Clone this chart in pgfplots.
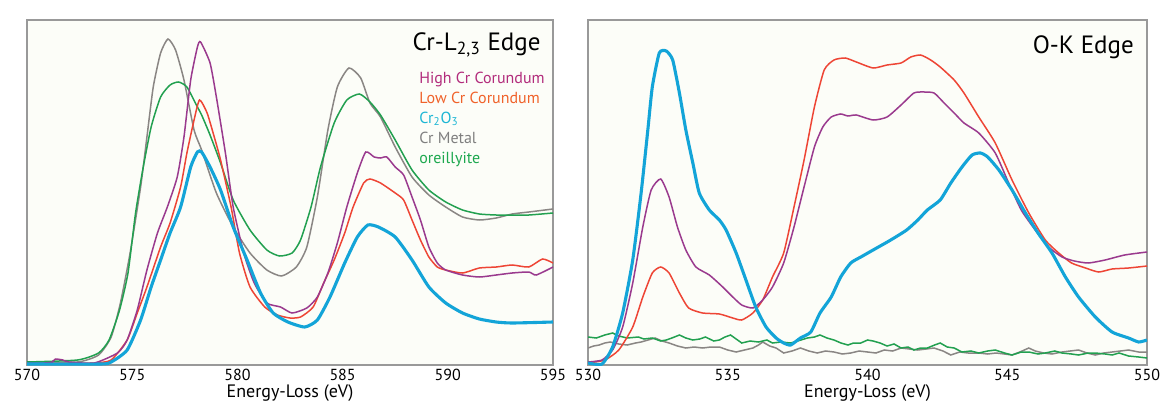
\documentclass[border=0pt]{standalone}
\usepackage{fontspec}
\setmainfont{PT Sans}
\usepackage{pgfplots}
\usepackage{pgfplotstable}
\pgfplotsset{compat=1.18}
\definecolor{cpur}{HTML}{9A3A8E}
\definecolor{cred}{HTML}{EE4535}
\definecolor{cblu}{HTML}{13A4D8}
\definecolor{cgry}{HTML}{8A8684}
\definecolor{cgrn}{HTML}{22A050}
\definecolor{tpur}{HTML}{B22C7C}
\definecolor{tred}{HTML}{F0622A}
\definecolor{tblu}{HTML}{1CB6D4}
\definecolor{tgry}{HTML}{7F7F7F}
\definecolor{tgrn}{HTML}{1DA84F}
\definecolor{bgc}{RGB}{252,253,248}

% ---------- Cr-L2,3 edge ----------
\pgfplotstableread{
x y
570 3
572.4 3
573.4 10
574.0 28
574.44 62
574.9 112
575.4 178
575.7 228
576.0 278
576.35 312
576.7 326
577.06 315
577.46 285
577.94 235
578.3 215
579.0 172
579.8 138
580.6 112
581.4 95
582.1 89
582.8 98
583.3 118
583.8 168
584.3 235
584.75 278
585.3 297
585.86 287
586.3 262
586.8 248
587.5 218
588.3 188
589.1 170
589.9 158
590.7 148
591.5 145
592.3 147
593.06 151
593.85 153
595 156
}\LGray
\pgfplotstableread{
x y
570 3
572.4 5
573.4 12
573.9 25
574.4 55
574.8 92
575.16 152
575.5 195
575.9 238
576.35 268
576.8 280
577.2 283
577.6 278
578.1 258
578.3 250
578.7 230
579.2 202
579.8 165
580.6 135
581.4 115
582.0 109
582.6 112
583.0 125
583.5 158
583.95 198
584.6 242
585.2 265
585.8 271
586.3 263
586.8 250
587.5 225
588.3 195
589.1 175
589.9 163
590.7 155
591.5 151
592.3 150
593.06 150
593.85 150
595 152
}\LGreen
\pgfplotstableread{
x y
570 2
570.8 2
571.2 3
571.35 6
571.7 5
572.0 3
573.2 2
574.3 12
574.76 25
575.24 55
575.7 95
576.2 132
576.67 158
577.14 188
577.46 228
577.78 285
578.1 318
578.25 323
578.7 302
579.0 268
579.43 212
579.8 158
580.3 112
580.8 82
581.4 62
582.05 58
582.6 52
583.3 57
583.8 68
584.3 92
584.75 122
585.2 158
585.7 192
586.1 213
586.5 208
586.8 207
587.1 208
587.5 198
587.9 190
588.3 168
588.7 145
589.1 118
589.5 102
589.9 95
590.7 90
591.5 88
592.3 90
593.06 92
593.85 93
594.2 90
595 98
}\LPurple
\pgfplotstableread{
x y
570 1
571.6 1
573.2 2
574.0 5
574.76 25
575.24 52
575.7 78
576.35 118
576.8 142
577.3 178
577.6 212
577.94 245
578.2 265
578.56 252
578.9 228
579.2 205
579.7 158
580.1 112
580.6 78
581.3 58
581.9 50
582.5 47
583.0 48
583.6 58
584.1 82
584.6 105
585.1 132
585.5 158
586.0 182
586.3 186
586.8 182
587.5 172
587.9 165
588.3 145
588.7 125
589.1 108
589.5 98
589.9 95
590.7 92
591.5 97
592.3 98
593.06 100
593.85 98
594.5 106
595 102
}\LRed
\pgfplotstableread{
x y
570 1
573.5 1
574.0 3
574.76 15
575.4 45
575.9 78
576.35 105
576.8 132
577.3 158
577.78 198
578.1 213
578.3 213
578.7 198
579.2 175
579.8 138
580.46 105
581.1 72
581.7 52
582.4 43
583.2 38
583.8 45
584.4 68
585.1 102
585.7 128
586.2 140
586.7 138
587.5 128
588.3 105
589.1 78
589.9 62
590.7 52
591.5 46
592.3 43
593.06 42
595 43
}\LBlue

% ---------- O-K edge ----------
\pgfplotstableread{
x y
530.0 2
530.5 1
530.88 18
531.24 52
531.6 105
531.9 172
532.14 235
532.3 278
532.55 312
532.8 314
533.03 305
533.27 272
533.5 235
533.75 202
533.98 172
534.34 155
534.7 145
534.94 135
535.3 112
535.65 85
536.0 58
536.37 38
536.73 27
537.0 22
537.25 20
537.6 27
537.97 33
538.3 52
538.7 68
539.04 88
539.4 102
539.76 108
540.2 115
540.83 125
541.4 135
541.8 145
542.14 155
542.6 165
542.98 182
543.38 198
543.74 210
544.04 212
544.3 208
544.7 195
545.17 175
545.65 152
546.1 132
546.6 112
547.08 88
547.55 68
548.15 48
548.75 33
549.34 27
549.7 23
550.0 25
}\RBlue
\pgfplotstableread{
x y
530.0 3
530.5 5
530.88 15
531.24 38
531.6 82
531.96 138
532.26 175
532.6 186
532.9 168
533.2 138
533.5 115
533.86 98
534.34 90
534.82 78
535.18 68
535.5 60
535.9 57
536.25 65
536.6 78
537.0 102
537.37 138
537.73 178
538.1 218
538.4 238
538.7 248
539.04 251
539.3 249
539.6 250
540.2 245
540.7 248
541.2 260
541.66 272
542.0 273
542.38 272
542.74 262
543.1 252
543.45 242
543.98 232
544.57 212
545.05 182
545.5 155
546.0 135
546.48 118
546.96 108
547.4 104
547.9 102
548.5 105
549.2 110
550.0 113
}\RPurple
\pgfplotstableread{
x y
530.0 2
530.6 5
531.1 15
531.6 38
531.96 68
532.3 92
532.6 98
532.9 92
533.27 72
533.6 57
534.1 52
534.7 51
535.18 47
535.5 45
535.9 52
536.25 65
536.6 88
537.0 112
537.37 158
537.73 205
538.1 258
538.45 295
538.8 305
539.2 307
539.6 303
540.2 297
540.7 300
541.2 302
541.55 308
541.9 310
542.26 305
542.6 298
543.1 285
543.45 272
543.98 248
544.57 222
545.17 185
545.77 152
546.36 125
546.84 112
547.3 102
547.8 97
548.27 93
548.75 96
549.34 97
550.0 99
}\RRed
\pgfplotstableread{
x y
530.0 28
530.3 27
530.6 30
530.88 32
531.1 29
531.4 27
531.8 28
532.0 26
532.3 27
532.6 24
532.8 25
533.0 27
533.27 30
533.5 27
533.75 25
534.0 26
534.2 28
534.5 24
534.7 25
534.9 28
535.1 30
535.3 26
535.5 22
535.8 24
536.1 23
536.4 25
536.6 22
536.9 23
537.25 22
537.5 24
537.85 27
538.1 28
538.3 30
538.55 27
538.8 25
539.05 22
539.3 20
539.5 22
539.76 22
540.0 25
540.2 24
540.45 22
540.7 19
540.95 21
541.2 17
541.45 18
541.66 15
541.9 17
542.14 17
542.4 20
542.6 22
542.85 18
543.1 17
543.38 13
543.7 14
543.98 12
544.3 14
544.57 15
544.9 12
545.17 10
545.5 13
545.77 13
546.1 11
546.36 12
546.7 14
546.96 12
547.3 11
547.55 10
547.9 12
548.15 12
548.5 11
548.75 10
549.0 12
549.34 9
549.7 8
550.0 7
}\RGreen
\pgfplotstableread{
x y
530.0 17
530.2 19
530.4 20
530.6 22
530.8 23
531.1 21
531.4 20
531.7 22
531.9 23
532.15 25
532.4 27
532.65 24
532.9 22
533.2 19
533.5 17
533.8 18
534.1 17
534.4 18
534.7 18
535.0 15
535.3 13
535.6 15
535.9 17
536.1 20
536.25 23
536.5 19
536.73 17
537.0 12
537.3 14
537.6 17
537.9 14
538.2 12
538.5 14
538.8 13
539.1 11
539.4 12
539.7 14
540.0 13
540.3 12
540.6 15
540.9 14
541.2 17
541.5 16
541.8 15
542.1 16
542.38 17
542.7 14
542.98 10
543.3 13
543.6 12
543.98 12
544.3 11
544.6 12
544.9 11
545.17 10
545.45 13
545.77 17
546.0 14
546.3 12
546.6 11
546.96 13
547.25 14
547.55 15
547.85 12
548.15 10
548.45 12
548.75 13
549.05 14
549.34 15
549.7 13
550.0 13
}\RGray

\begin{document}
\begin{tikzpicture}[x=1bp,y=1bp]
\useasboundingbox (0,0) rectangle (580.5,201.5);
\pgfplotsset{
  every axis/.append style={
    scale only axis,
    anchor=south west,
    height=172.5bp,
    ymin=0, ymax=345,
    ytick=\empty,
    xtick distance=5,
    major tick length=0pt,
    axis line style={draw=black!40, line width=0.8bp},
    axis background/.style={fill=bgc},
    tick label style={font=\fontsize{8bp}{9bp}\selectfont},
    xticklabel style={anchor=north, inner sep=0pt, yshift=-1.8bp},
    /pgf/number format/assume math mode=true,
    /pgf/number format/1000 sep={},
    xlabel={Energy-Loss (eV)},
    label style={font=\fontsize{9bp}{10bp}\selectfont},
    xlabel style={at={(axis description cs:0.5,0)}, anchor=base, inner sep=0pt, yshift=-16.1bp},
    clip=true,
  },
  thin line/.style={line width=0.75bp, no marks, smooth, tension=0.35},
  thick line/.style={line width=1.55bp, no marks, smooth, tension=0.35},
  noisy line/.style={line width=0.75bp, no marks},
}
\begin{axis}[at={(13.5bp,19bp)}, width=263bp, xmin=570, xmax=595]
\addplot[thin line, cgry] table {\LGray};
\addplot[thin line, cgrn] table {\LGreen};
\addplot[thin line, cred] table {\LRed};
\addplot[thin line, cpur] table {\LPurple};
\addplot[thick line, cblu] table {\LBlue};
\node[anchor=east, inner sep=0pt, font=\fontsize{12.5bp}{14bp}\selectfont] at (rel axis cs:0.977,0.928) {Cr-L\textsubscript{2,3} Edge};
\begin{scope}[every node/.style={anchor=base west, inner sep=0pt, font=\fontsize{8bp}{9bp}\selectfont}]
\node[text=tpur] at (rel axis cs:0.745,0.817) {High Cr Corundum};
\node[text=tred] at (rel axis cs:0.745,0.759) {Low Cr Corundum};
\node[text=tblu] at (rel axis cs:0.745,0.701) {Cr\textsubscript{2}O\textsubscript{3}};
\node[text=tgry] at (rel axis cs:0.745,0.641) {Cr Metal};
\node[text=tgrn] at (rel axis cs:0.745,0.583) {oreillyite};
\end{scope}
\end{axis}
\begin{axis}[at={(294bp,19bp)}, width=279.5bp, xmin=530, xmax=550]
\addplot[noisy line, cgry] table {\RGray};
\addplot[noisy line, cgrn] table {\RGreen};
\addplot[thin line, cred] table {\RRed};
\addplot[thin line, cpur] table {\RPurple};
\addplot[thick line, cblu] table {\RBlue};
\node[anchor=east, inner sep=0pt, font=\fontsize{12.5bp}{14bp}\selectfont] at (rel axis cs:0.977,0.922) {O-K Edge};
\end{axis}
\end{tikzpicture}
\end{document}
